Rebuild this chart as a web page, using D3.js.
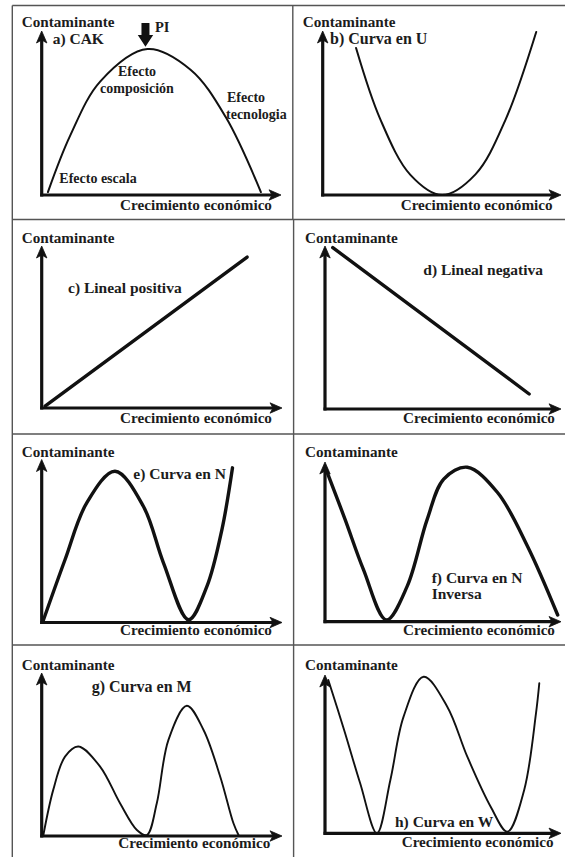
<!DOCTYPE html>
<html><head><meta charset="utf-8">
<script src="https://cdn.jsdelivr.net/npm/d3@7"></script>
<style>
body{margin:0;background:#fff}
text{font-family:"Liberation Serif","Times New Roman",serif;font-weight:bold;fill:#1c1c1c}
</style>
</head><body>
<svg id="c" width="565" height="857"></svg>
<script>
// ---------- data (domain units 0..100 on each panel's axes) ----------
const yLabel = "Contaminante";
const xLabel = "Crecimiento económico";
const titles = ["a) CAK", "b) Curva en U", "c) Lineal positiva", "d) Lineal negativa",
                "e) Curva en N", "f) Curva en N|Inversa", "g) Curva en M", "h) Curva en W"];
const aX = [2.6, 11.9, 24.5, 44.2, 62.2, 76.9, 91.6];
const aY = [1.8, 36.2, 69.3, 89.0, 76.4, 47.5, 1.8];
const bX = [14.0, 24.1, 36.8, 50.1, 64.1, 76.7, 89.6];
const bY = [89.6, 46.4, 12.3, 0.0, 12.6, 45.8, 99.4];
const cX = [1.4, 85.5];
const cY = [1.2, 93.2];
const dX = [3.3, 86.5];
const dY = [99.0, 9.2];
const eX = [0.5, 9.7, 18.75, 30.5, 42.3, 50.7, 61.1, 68.75, 75.0, 79.4];
const eY = [0.6, 38.5, 73.4, 92.8, 71.3, 36.5, 1.7, 22.1, 57.0, 94.9];
const fX = [0.4, 8.5, 16.3, 26.0, 34.8, 43.3, 50.3, 60.3, 73.1, 85.8, 98.6];
const fY = [95.6, 64.1, 32.6, 1.1, 22.1, 64.1, 89.3, 96.7, 80.9, 47.3, 4.2];
const gX = [0.7, 4.8, 9.7, 15.25, 24.3, 32.6, 39.6, 43.75, 47.9, 52.75, 60.4, 67.3, 74.3, 79.8, 81.9];
const gY = [0.6, 28.3, 48.7, 54.9, 42.6, 20.1, 3.7, 0.6, 20.1, 59.0, 79.9, 65.2, 36.4, 7.8, 0.6];
const hX = [1.4, 8.1, 14.9, 22.0, 27.7, 33.3, 41.8, 51.8, 60.3, 70.2, 77.3, 84.4, 89.4, 90.8];
const hY = [96.8, 65.3, 31.6, 0.0, 33.7, 73.7, 98.9, 80.0, 48.4, 16.8, 1.0, 27.4, 75.8, 94.8];
const annotations = ["PI", "Efecto|composición", "Efecto|tecnologia", "Efecto escala"];

// ---------- layout ----------
const seriesX = [aX, bX, cX, dX, eX, fX, gX, hX];
const seriesY = [aY, bY, cY, dY, eY, fY, gY, hY];
const frames = [
  {ox: 41.7, oy: 195,   xt: 281,   yt: 31,    w: 2.0, lx: 120,   ly: 210,   tx: 52.7,  ty: 44,   ts: 15.5, yl: 26.5},
  {ox: 322.7, oy: 195,  xt: 561,   yt: 31,    w: 2.0, lx: 400.7, ly: 210,   tx: 330,   ty: 44,   ts: 16,   yl: 26.5},
  {ox: 41.7, oy: 408,   xt: 282,   yt: 246,   w: 3.4, lx: 120,   ly: 422.5, tx: 68,    ty: 293,  ts: 15.5, yl: 243},
  {ox: 325, oy: 409,    xt: 561,   yt: 246,   w: 3.4, lx: 403,   ly: 422.5, tx: 423.3, ty: 275,  ts: 15.5, yl: 243},
  {ox: 41.7, oy: 622.5, xt: 282,   yt: 459.5, w: 3.4, lx: 120,   ly: 635,   tx: 133.3, ty: 479.3, ts: 15.5, yl: 456.5},
  {ox: 325, oy: 621.7,  xt: 561,   yt: 462,   w: 3.4, lx: 403,   ly: 635,   tx: 431.7, ty: 583,   ts: 15.5, yl: 456.5},
  {ox: 41.7, oy: 836,   xt: 282,   yt: 673,   w: 1.9, lx: 118.3, ly: 848.3, tx: 91.7,  ty: 691.7, ts: 16,   yl: 669.5},
  {ox: 325, oy: 833.3,  xt: 561,   yt: 675,   w: 1.9, lx: 401.7, ly: 846.7, tx: 395,   ty: 826.7, ts: 15.5, yl: 669.5}
];

const svg = d3.select("#c");
const ink = "#111";

// table borders
const border = svg.append("g").attr("stroke", "#555").attr("stroke-width", 1.4).attr("fill", "none");
border.append("line").attr("x1", 12.3).attr("x2", 565).attr("y1", 5.5).attr("y2", 5.5);
border.append("line").attr("x1", 12.3).attr("x2", 12.3).attr("y1", 5.5).attr("y2", 857);
[219.5, 434, 645].forEach(y => border.append("line").attr("x1", 12.3).attr("x2", 565).attr("y1", y).attr("y2", y));
border.append("line").attr("x1", 292.8).attr("x2", 292.8).attr("y1", 5.5).attr("y2", 219.5);
border.append("line").attr("x1", 293.6).attr("x2", 293.6).attr("y1", 219.5).attr("y2", 857);

function arrowHead(g, x, y, dir) {
  const p = dir === "up"
    ? `M${x},${y} L${x - 5.2},${y + 12} L${x},${y + 9} L${x + 5.2},${y + 12} Z`
    : `M${x},${y} L${x - 12},${y - 5.2} L${x - 9},${y} L${x - 12},${y + 5.2} Z`;
  g.append("path").attr("d", p).attr("fill", ink).attr("stroke", ink).attr("stroke-width", 0.8).attr("stroke-linejoin", "miter");
}

frames.forEach((f, i) => {
  const g = svg.append("g");
  const x = d3.scaleLinear().domain([0, 100]).range([f.ox, f.xt]);
  const y = d3.scaleLinear().domain([0, 100]).range([f.oy, f.yt]);

  // axes
  g.append("line").attr("x1", x(0)).attr("x2", x(0)).attr("y1", y(0) + 1.5).attr("y2", y(100) + 8)
    .attr("stroke", ink).attr("stroke-width", 3.2);
  g.append("line").attr("x1", x(0) - 1.5).attr("x2", x(100) - 8).attr("y1", y(0)).attr("y2", y(0))
    .attr("stroke", ink).attr("stroke-width", 3.2);
  arrowHead(g, x(0), y(100), "up");
  arrowHead(g, x(100), y(0), "right");

  // curve
  const pts = seriesX[i].map((v, k) => [v, seriesY[i][k]]);
  const line = d3.line().x(d => x(d[0])).y(d => y(d[1]))
    .curve(pts.length > 2 ? d3.curveCatmullRom.alpha(0.5) : d3.curveLinear);
  g.append("path").attr("d", line(pts)).attr("fill", "none").attr("stroke", ink)
    .attr("stroke-width", f.w).attr("stroke-linecap", "round").attr("stroke-linejoin", "round");

  // labels
  g.append("text").attr("x", f.ox - 20).attr("y", f.yl).attr("font-size", 15.2).text(yLabel);
  g.append("text").attr("x", f.lx).attr("y", f.ly).attr("font-size", 15.2).text(xLabel);
  const tl = titles[i].split("|");
  tl.forEach((t, k) => g.append("text").attr("x", f.tx).attr("y", f.ty + k * 16)
    .attr("font-size", f.ts).text(t));

  if (i === 0) {
    const px = x(aX[3]) - 2;
    g.append("path")
      .attr("d", `M${px - 4},23 L${px + 4},23 L${px + 4},35 L${px + 7.7},35 L${px},46.7 L${px - 7.7},35 L${px - 4},35 Z`)
      .attr("fill", ink);
    g.append("text").attr("x", px + 9.5).attr("y", 31.7).attr("font-size", 14.5).text(annotations[0]);
    const pos = [[[118, 76], [100, 93]], [[227, 102], [226, 119]], [[59.3, 183]]];
    annotations.slice(1).forEach((a, k) => {
      a.split("|").forEach((t, j) => g.append("text").attr("x", pos[k][j][0]).attr("y", pos[k][j][1])
        .attr("font-size", 14).text(t));
    });
  }
});
</script>
</body></html>
